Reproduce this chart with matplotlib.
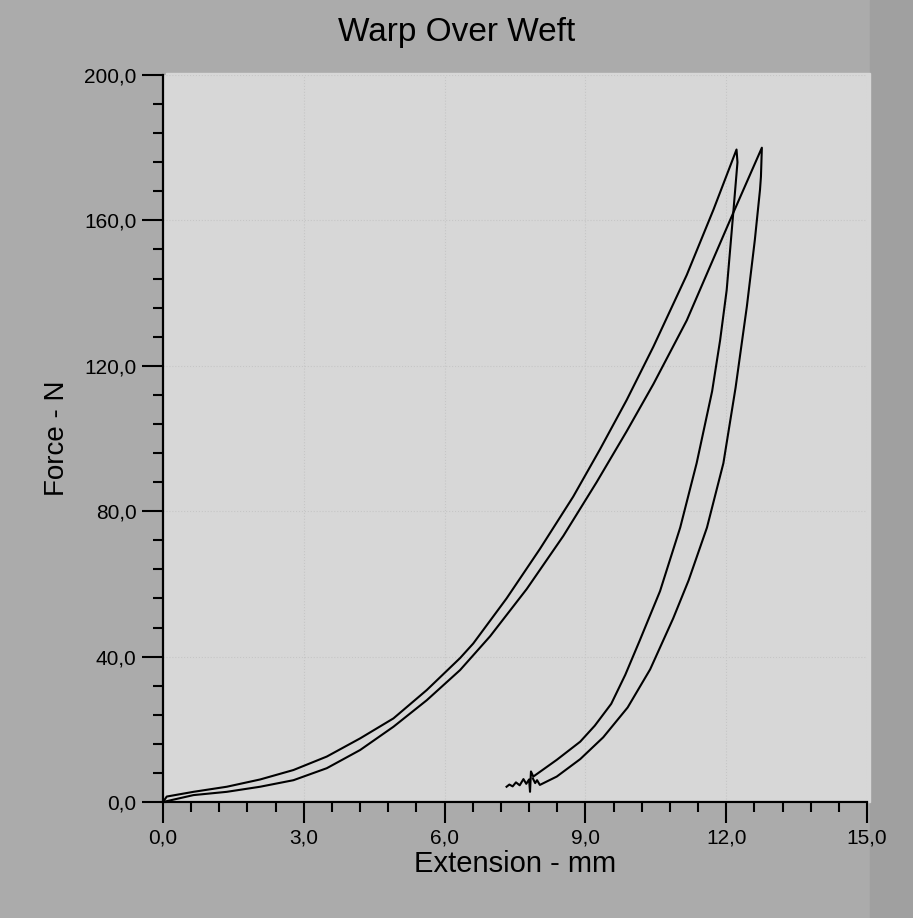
import matplotlib.pyplot as plt
from matplotlib.ticker import MultipleLocator, FuncFormatter
from matplotlib.patches import Rectangle

# loop 1 (left), loading then unloading
ext_load1 = [0.0, 0.08, 0.65, 1.36, 2.07, 2.78, 3.49, 4.2, 4.91, 5.62, 6.33, 6.61, 7.32, 8.03,
             8.74, 9.31, 9.88, 10.45, 11.16, 11.73, 12.22]
force_load1 = [0.0, 1.5, 2.8, 4.2, 6.2, 8.8, 12.5, 17.5, 23.0, 30.8, 39.6, 43.6, 56.0, 69.6,
               84.0, 97.0, 110.6, 125.3, 145.0, 163.0, 179.5]
ext_unload1 = [12.22, 12.24, 12.15, 12.01, 11.87, 11.7, 11.37, 11.02, 10.59, 10.16, 9.85, 9.55,
               9.2, 8.89, 8.39, 7.89, 7.84, 7.82, 7.8, 7.74, 7.68, 7.6, 7.52, 7.45, 7.38, 7.32]
force_unload1 = [179.5, 176.0, 162.0, 140.8, 127.0, 113.0, 93.2, 75.5, 58.0, 44.5, 35.0, 27.0,
                 21.0, 16.6, 11.6, 7.0, 8.4, 2.8, 6.2, 5.0, 6.3, 4.6, 5.4, 4.3, 4.8, 4.2]

# loop 2 (right), loading then unloading
ext_load2 = [0.0, 0.65, 1.36, 2.07, 2.78, 3.49, 4.2, 4.91, 5.62, 6.33, 6.97, 7.75, 8.53,
             9.24, 9.88, 10.45, 11.16, 12.08, 12.76]
force_load2 = [0.0, 1.9, 2.8, 4.2, 6.0, 9.3, 14.3, 20.7, 28.0, 36.3, 45.6, 58.6, 73.2,
               88.0, 102.0, 115.0, 132.5, 160.0, 180.0]
ext_unload2 = [12.76, 12.74, 12.72, 12.61, 12.44, 12.2, 11.94, 11.59, 11.2, 10.87, 10.38, 9.9,
               9.38, 8.89, 8.39, 8.03, 7.97, 7.93, 7.88]
force_unload2 = [180.0, 172.0, 168.4, 154.6, 136.3, 114.0, 93.2, 75.5, 61.0, 50.5, 36.5, 26.0,
                 17.8, 11.8, 7.0, 4.7, 6.0, 5.2, 6.5]

x_ticks = [0, 3, 6, 9, 12, 15]
y_ticks = [0, 40, 80, 120, 160, 200]

outer = '#ababab'
inner = '#d7d7d7'

fig = plt.figure(figsize=(9.13, 9.18), dpi=100, facecolor=outer)
fig.patches.append(Rectangle((870 / 913, 0), 43 / 913, 1, transform=fig.transFigure,
                             color='#a0a0a0', zorder=-2))
fig.patches.append(Rectangle((166 / 913, 1 - 802 / 918), 704 / 913, 729 / 918,
                             transform=fig.transFigure, color=inner, zorder=-1))

ax = fig.add_axes([163 / 913, 1 - 802 / 918, 704 / 913, 727 / 918])
ax.set_zorder(1)
ax.set_facecolor(inner)

ax.plot(ext_load1 + ext_unload1, force_load1 + force_unload1, color='black', lw=1.5)
ax.plot(ext_load2 + ext_unload2, force_load2 + force_unload2, color='black', lw=1.5)

ax.set_xlim(0, 15)
ax.set_ylim(0, 200)
ax.set_xticks(x_ticks)
ax.set_yticks(y_ticks)
ax.xaxis.set_minor_locator(MultipleLocator(0.6))
ax.yaxis.set_minor_locator(MultipleLocator(8))
comma = FuncFormatter(lambda v, p: ('%.1f' % v).replace('.', ','))
ax.xaxis.set_major_formatter(comma)
ax.yaxis.set_major_formatter(comma)

ax.grid(True, which='major', color='#c6c6c6', ls=':', lw=0.8)
ax.set_axisbelow(True)

for side in ['top', 'right']:
    ax.spines[side].set_visible(False)
for side in ['left', 'bottom']:
    ax.spines[side].set_linewidth(1.6)
    ax.spines[side].set_color('black')

ax.tick_params(which='major', length=15, width=1.5, labelsize=15, pad=4, color='black')
ax.tick_params(which='minor', length=7, width=1.5, color='black')
for lab in ax.get_xticklabels() + ax.get_yticklabels():
    lab.set_family('Liberation Sans')

ax.set_xlabel('Extension - mm', fontsize=21, family='Liberation Sans', labelpad=2)
ax.set_ylabel('Force - N', fontsize=20, family='Liberation Sans', labelpad=10)
fig.text(0.5, 1 - 32 / 918, 'Warp Over Weft', ha='center', va='center', fontsize=24,
         family='Liberation Sans')

plt.savefig('out.png', dpi=100, facecolor=outer)
